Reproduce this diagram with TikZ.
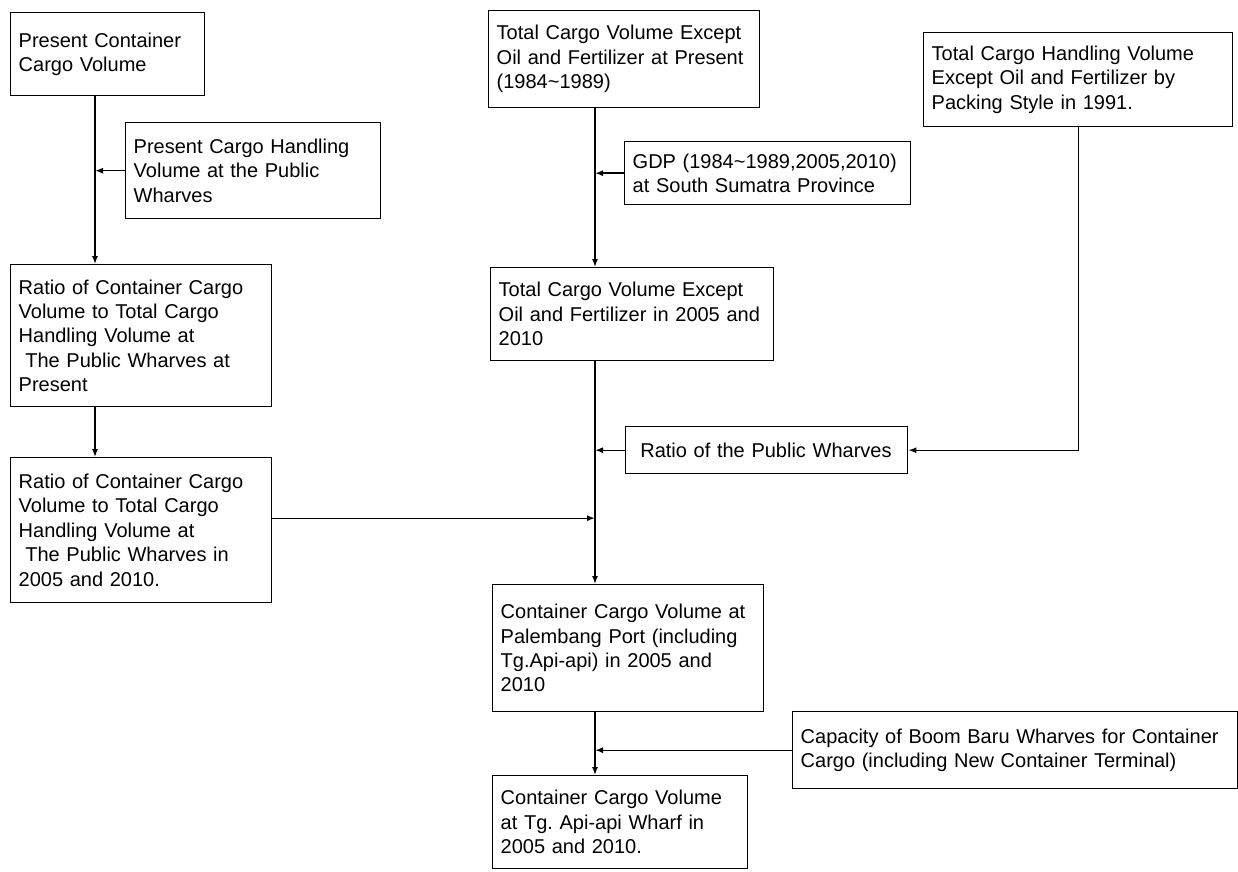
\documentclass[tikz,border=0pt]{standalone}
\usepackage{fontspec}
\setmainfont{Liberation Sans}
\usetikzlibrary{arrows.meta,positioning}
\tikzset{
  pcbox/.style={draw, line width=.7pt, align=left, inner xsep=4pt, inner ysep=2pt, anchor=north west},
  pcarr/.style={-{Latex[length=4pt,width=3pt]}, line width=.7pt}
}

\begin{document}
\begin{tikzpicture}[x=.5pt, y=-.5pt, font=\fontsize{10}{12.2}\selectfont\frenchspacing]
  \useasboundingbox (0,0) rectangle (1238,872);
  \coordinate (lspine) at (95,0);
  \coordinate (spine) at (595,0);
  % left column
  \node[pcbox, text width=89pt, minimum height=41.5pt] (pccur) at (10,12) {Present Container\\Cargo Volume};
  \node[pcbox, text width=119.5pt, minimum height=48pt] (pchand) at (125,122) {Present Cargo Handling\\Volume at the Public\\Wharves};
  \node[pcbox, text width=122.5pt, minimum height=71pt] (ratnow) at (10,264) {Ratio of Container Cargo\\Volume to Total Cargo\\Handling Volume at\\\ The Public Wharves at\\Present};
  \node[pcbox, text width=122.5pt, minimum height=72.5pt] (ratfut) at (10,457) {Ratio of Container Cargo\\Volume to Total Cargo\\Handling Volume at\\\ The Public Wharves in\\2005 and 2010.};
  % middle column
  \node[pcbox, text width=127.5pt, minimum height=48.5pt] (totnow) at (488,10) {Total Cargo Volume Except\\Oil and Fertilizer at Present\\(1984\textasciitilde1989)};
  \node[pcbox, text width=135pt, minimum height=31.5pt] (gdp) at (624,141) {GDP (1984\textasciitilde1989,2005,2010)\\at South Sumatra Province};
  \node[pcbox, text width=133.5pt, minimum height=46.5pt] (totfut) at (490,267) {Total Cargo Volume Except\\Oil and Fertilizer in 2005 and\\2010};
  \node[pcbox, text width=133pt, minimum height=23.5pt] (pubratio) at (625,426) {\ Ratio of the Public Wharves};
  \node[pcbox, text width=127.5pt, minimum height=63.5pt] (palport) at (492,584) {Container Cargo Volume at\\Palembang Port (including\\Tg.Api-api) in 2005 and\\2010};
  \node[pcbox, text width=119.5pt, minimum height=46.5pt] (tgapi) at (492,775) {Container Cargo Volume\\at Tg. Api-api Wharf in\\2005 and 2010.};
  % right column
  \node[pcbox, text width=146.5pt, minimum height=47pt] (pack) at (923,32) {Total Cargo Handling Volume\\Except Oil and Fertilizer by\\Packing Style in 1991.};
  \node[pcbox, text width=214.5pt, minimum height=38.5pt] (capboom) at (792,711) {Capacity of Boom Baru Wharves for Container\\Cargo (including New Container Terminal)};
  % connectors
  \draw[pcarr] (pccur.south -| lspine) -- (ratnow.north -| lspine);
  \draw[pcarr] (pchand.west) -- (pchand.west -| lspine);
  \draw[pcarr] (ratnow.south -| lspine) -- (ratfut.north -| lspine);
  \draw[pcarr] (totnow.south -| spine) -- (totfut.north -| spine);
  \draw[pcarr] (gdp.west) -- (gdp.west -| spine);
  \draw[pcarr] (totfut.south -| spine) -- (palport.north -| spine);
  \draw[pcarr] (pubratio.west) -- (pubratio.west -| spine);
  \draw[pcarr] (pack.south) |- (pubratio.east);
  \draw[pcarr] ([yshift=6pt]ratfut.east) -- ([yshift=6pt]ratfut.east -| spine);
  \draw[pcarr] (palport.south -| spine) -- (tgapi.north -| spine);
  \draw[pcarr] (capboom.west) -- (capboom.west -| spine);
\end{tikzpicture}
\end{document}
